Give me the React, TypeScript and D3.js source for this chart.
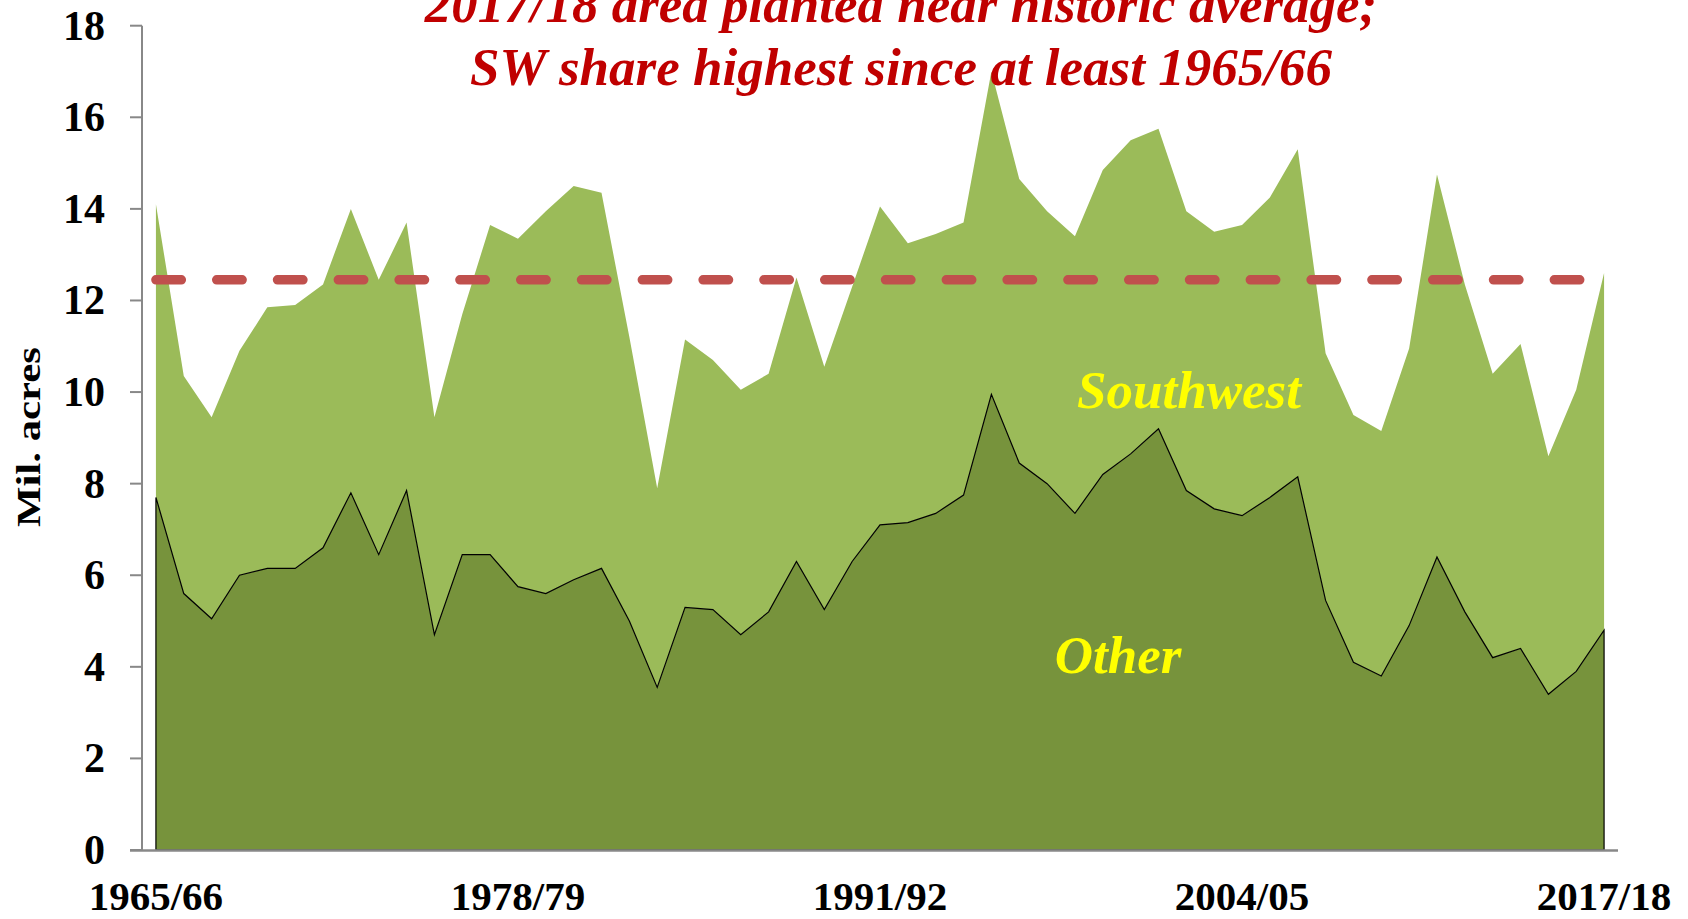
import React from "react";
import * as d3 from "d3";

// Marketing years on the category axis
const seasons = [
	"1965/66", "1966/67", "1967/68", "1968/69", "1969/70", "1970/71", "1971/72", "1972/73",
	"1973/74", "1974/75", "1975/76", "1976/77", "1977/78", "1978/79", "1979/80", "1980/81",
	"1981/82", "1982/83", "1983/84", "1984/85", "1985/86", "1986/87", "1987/88", "1988/89",
	"1989/90", "1990/91", "1991/92", "1992/93", "1993/94", "1994/95", "1995/96", "1996/97",
	"1997/98", "1998/99", "1999/00", "2000/01", "2001/02", "2002/03", "2003/04", "2004/05",
	"2005/06", "2006/07", "2007/08", "2008/09", "2009/10", "2010/11", "2011/12", "2012/13",
	"2013/14", "2014/15", "2015/16", "2016/17", "2017/18",
];

// Mil. acres planted outside the Southwest
const other = [
	7.7, 5.6, 5.05, 6.0, 6.15, 6.15, 6.6, 7.8, 6.45, 7.85, 4.7, 6.45, 6.45, 5.75, 5.6, 5.9,
	6.15, 5.0, 3.55, 5.3, 5.25, 4.7, 5.2, 6.3, 5.25, 6.3, 7.1, 7.15, 7.35, 7.75, 9.95, 8.45,
	8.0, 7.35, 8.2, 8.65, 9.2, 7.85, 7.45, 7.3, 7.7, 8.15, 5.45, 4.1, 3.8, 4.9, 6.4, 5.2,
	4.2, 4.4, 3.4, 3.9, 4.8,
];

// Mil. acres planted in the Southwest
const southwest = [
	6.4, 4.75, 4.4, 4.9, 5.7, 5.75, 5.75, 6.2, 6.0, 5.85, 4.75, 5.25, 7.2, 7.6, 8.35, 8.6,
	8.2, 6.2, 4.35, 5.85, 5.45, 5.35, 5.2, 6.2, 5.3, 6.0, 6.95, 6.1, 6.1, 5.95, 7.05, 6.2,
	5.95, 6.05, 6.65, 6.85, 6.55, 6.1, 6.05, 6.35, 6.55, 7.15, 5.4, 5.4, 5.35, 6.05, 8.35, 7.15,
	6.2, 6.65, 5.2, 6.15, 7.8,
];

const historicAverage = 12.45;
const yTicks = [0, 2, 4, 6, 8, 10, 12, 14, 16, 18];
const xTickLabels = ["1965/66", "1978/79", "1991/92", "2004/05", "2017/18"];
const titleLines = [
	"2017/18 area planted near historic average;",
	"SW share highest since at least 1965/66",
];

const W = 1688;
const H = 919;
const font = '"Liberation Serif", "Times New Roman", serif';

const rows = seasons.map((s, i) => ({ season: s, other: other[i], southwest: southwest[i] }));
const stacked = d3.stack<any>().keys(["other", "southwest"])(rows);

const x = d3.scalePoint<string>().domain(seasons).range([142, 1618]).padding(0.5);
const y = d3.scaleLinear().domain([0, 18]).range([850, 25.7]);

const area = d3
	.area<any>()
	.x((d) => x(d.data.season) as number)
	.y0((d) => y(d[0]))
	.y1((d) => y(d[1]));

const labelStyle = { fontFamily: font, fontWeight: "bold", fontStyle: "italic", fontSize: "53px", fill: "#FFFF00" };

export default function App() {
	const x0 = x(seasons[0]) as number;
	const x1 = x(seasons[seasons.length - 1]) as number;
	return (
		<div style={{ position: "absolute", left: 0, top: 0 }}>
			<svg width={W} height={H} style={{ display: "block", background: "#fff" }}>
				<path d={area(stacked[1]) || ""} fill="#9BBB59" />
				<path d={area(stacked[0]) || ""} fill="#77933C" stroke="#000" strokeWidth={1.2} />

				{/* historic average */}
				<line
					x1={x0}
					x2={x1}
					y1={y(historicAverage)}
					y2={y(historicAverage)}
					stroke="#C0504D"
					strokeWidth={9.5}
					strokeDasharray="25.4 35.4"
					strokeLinecap="round"/>

				{/* y axis */}
				<line x1={142} x2={142} y1={y(18)} y2={y(0)} stroke="#888" strokeWidth={2} />
				{yTicks.map((t) => (
					<g key={t}>
						<line x1={130} x2={142} y1={y(t)} y2={y(t)} stroke="#888" strokeWidth={2} />
						<text
							x={105}
							y={y(t) + 14}
							textAnchor="end"
							style={{ fontFamily: font, fontWeight: "bold", fontSize: "42px" }}>
							{t}
						</text>
					</g>
				))}

				{/* x axis */}
				<line x1={130} x2={1618} y1={y(0) + 0.5} y2={y(0) + 0.5} stroke="#888" strokeWidth={2.5} />
				{xTickLabels.map((l) => (
					<text
						key={l}
						x={x(l) as number}
						y={910}
						textAnchor="middle"
						style={{ fontFamily: font, fontWeight: "bold", fontSize: "41px" }}>
						{l}
					</text>
				))}

				<text
					transform="translate(40, 437) rotate(-90)"
					textAnchor="middle"
					textLength={180}
					lengthAdjust="spacingAndGlyphs"
					style={{ fontFamily: font, fontWeight: "bold", fontSize: "33px" }}>
					Mil. acres
				</text>

				{titleLines.map((t, i) => (
					<text
						key={t}
						x={901}
						y={22 + i * 63}
						textAnchor="middle"
						style={{
							fontFamily: font,
							fontWeight: "bold",
							fontStyle: "italic",
							fontSize: "53px",
							fill: "#C00000",
						}}>
						{t}
					</text>
				))}

				<text x={1189} y={408} textAnchor="middle" style={labelStyle}>
					Southwest
				</text>
				<text x={1118} y={673} textAnchor="middle" style={labelStyle}>
					Other
				</text>
			</svg>
		</div>
	);
}
